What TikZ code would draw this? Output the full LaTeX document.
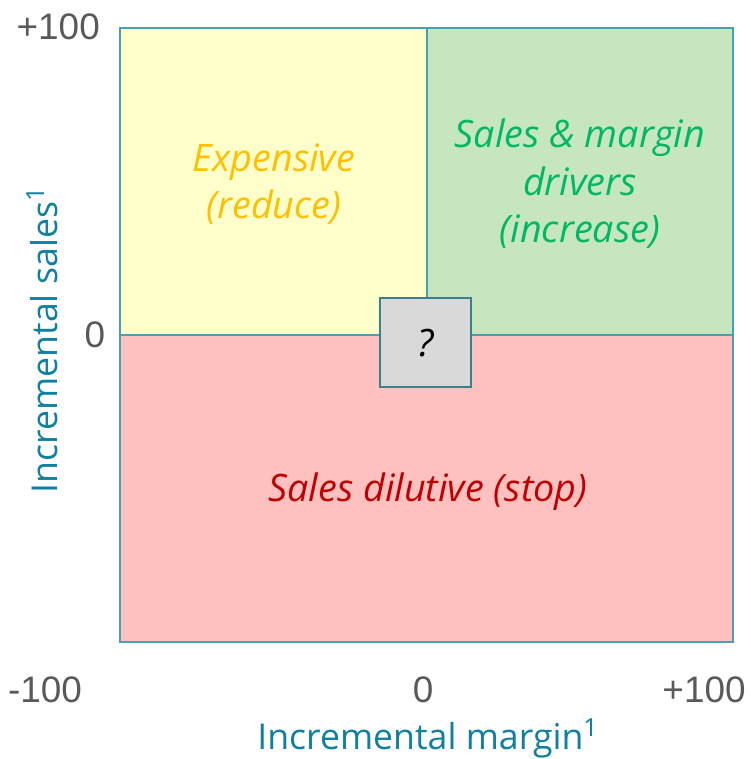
\documentclass[tikz,border=0pt]{standalone}
\usepackage{fontspec}
\setmainfont{Open Sans}
\newfontfamily\numfont{Liberation Sans}
\usetikzlibrary{positioning,calc}
\definecolor{QuadYellow}{RGB}{255,255,204}
\definecolor{QuadGreen}{RGB}{198,230,192}
\definecolor{QuadRed}{RGB}{255,192,192}
\definecolor{EdgeTeal}{RGB}{75,160,175}
\definecolor{BoxGray}{RGB}{217,217,217}
\definecolor{TxtGold}{RGB}{255,192,0}
\definecolor{TxtGreen}{RGB}{0,184,100}
\definecolor{TxtRed}{RGB}{192,0,0}
\definecolor{AxisTeal}{RGB}{16,128,160}
\definecolor{NumGray}{RGB}{89,89,89}
\tikzset{
  quad/.style={draw=EdgeTeal,line width=0.6pt},
  qtext/.style={font=\fontsize{21.5}{27}\selectfont\itshape,align=center},
  num/.style={font=\numfont\fontsize{21}{25}\selectfont,text=NumGray},
  axislabel/.style={font=\fontsize{20.3}{24}\selectfont,text=AxisTeal},
}
\begin{document}
\begin{tikzpicture}[x=0.02cm,y=-0.02cm]
  \useasboundingbox (0,0) rectangle (750,759);
  % quadrants
  \filldraw[quad,fill=QuadYellow] (120,28) rectangle (427,335);
  \filldraw[quad,fill=QuadGreen] (427,28) rectangle (733,335);
  \filldraw[quad,fill=QuadRed] (120,335) rectangle (733,642);
  \filldraw[draw=EdgeTeal!80!black,line width=0.8pt,fill=BoxGray] (380,298) rectangle (471,387);
  % quadrant texts
  \node[qtext,text=TxtGold] (expensive) at (274,184) {Expensive\\(reduce)};
  \node[qtext,text=TxtGreen] (drivers) at (580,184) {Sales \& margin\\drivers\\(increase)};
  \node[qtext,text=TxtRed] (dilutive) at (428,492) {Sales dilutive (stop)};
  \node[qtext] (unknown) at (426,343) {?};
  % axis numbers
  \node[num,anchor=east] (ytop) at (106,27) {+100};
  \node[num] (ymid) at (95,335) {0};
  \node[num] (xleft) at (45,690) {-100};
  \node[num] (xmid) at (423,690) {0};
  \node[num] (xright) at (704,690) {+100};
  % axis labels
  \node[axislabel] (xlabel) at (428,738) {Incremental margin\textsuperscript{1}};
  \node[axislabel,rotate=90] (ylabel) at (42,340) {Incremental sales\textsuperscript{1}};
\end{tikzpicture}
\end{document}
